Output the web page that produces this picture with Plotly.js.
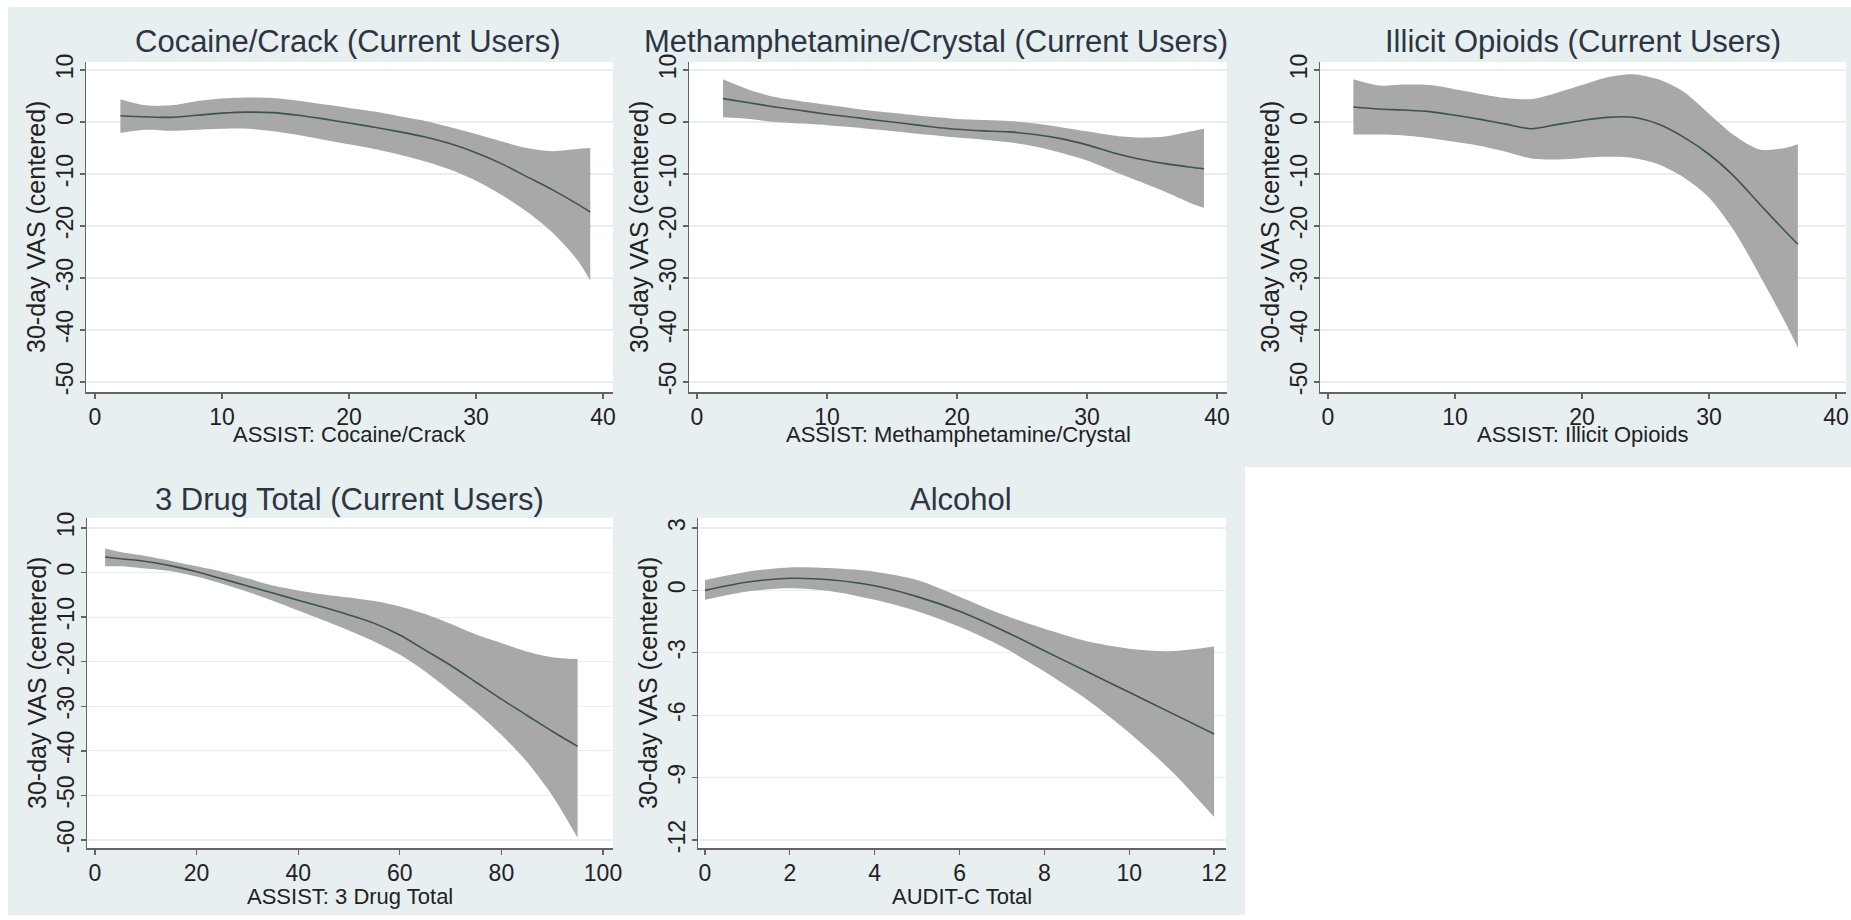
<!DOCTYPE html>
<html><head><meta charset="utf-8">
<script src="https://cdn.plot.ly/plotly-3.0.1.min.js"></script>
<style>html,body{margin:0;padding:0;background:#fff}#chart{width:1851px;height:920px}</style>
</head><body><div id="chart"></div>
<script>
// ---------------- DATA ----------------
const cocaineX   = [2,4,6,8,10,12,14,16,18,20,22,24,26,28,30,32,34,36,38,39];
const cocaineFit = [1.2,1.0,0.9,1.3,1.7,1.9,1.8,1.3,0.6,-0.2,-1.0,-1.9,-2.9,-4.2,-5.9,-8.0,-10.5,-13.0,-15.8,-17.3];
const cocaineHi  = [4.4,3.2,3.2,4.0,4.5,4.7,4.6,4.1,3.4,2.7,2.0,1.1,0.2,-1.0,-2.3,-3.7,-5.0,-5.6,-5.2,-5.0];
const cocaineLo  = [-2.1,-1.5,-1.7,-1.5,-1.3,-1.3,-1.8,-2.5,-3.4,-4.3,-5.2,-6.3,-7.6,-9.2,-11.3,-14.0,-17.2,-21.2,-26.6,-30.5];

const methX   = [2,4,6,8,10,12,14,16,18,20,22,24,26,28,30,32,34,36,38,39];
const methFit = [4.5,3.7,2.9,2.2,1.5,0.9,0.3,-0.3,-0.9,-1.4,-1.7,-1.9,-2.4,-3.2,-4.4,-5.9,-7.1,-8.0,-8.7,-9.0];
const methHi  = [8.2,6.2,4.8,4.0,3.3,2.6,2.0,1.5,1.0,0.6,0.4,0.2,-0.3,-1.0,-1.8,-2.6,-3.0,-2.8,-1.8,-1.3];
const methLo  = [0.9,0.6,0.0,-0.3,-0.6,-1.0,-1.5,-2.0,-2.5,-3.0,-3.4,-3.9,-4.7,-5.9,-7.4,-9.4,-11.4,-13.4,-15.6,-16.5];

const opioidX   = [2,4,6,8,10,12,14,16,18,20,22,24,26,28,30,32,34,36,37];
const opioidFit = [2.9,2.5,2.3,2.0,1.3,0.5,-0.4,-1.3,-0.5,0.3,0.9,0.9,-0.4,-2.9,-6.2,-10.5,-15.8,-21.0,-23.5];
const opioidHi  = [8.2,7.0,7.2,7.1,6.3,5.4,4.6,4.4,5.6,7.1,8.6,9.2,8.2,5.8,1.6,-2.6,-5.3,-5.0,-4.3];
const opioidLo  = [-2.4,-2.4,-2.6,-3.1,-3.8,-4.6,-5.7,-7.0,-7.2,-6.9,-6.7,-6.9,-8.1,-10.6,-14.5,-21.0,-29.5,-38.5,-43.4];

const drug3X   = [2,5,10,15,20,25,30,35,40,45,50,55,60,65,70,75,80,85,90,95];
const drug3Fit = [3.5,3.1,2.5,1.5,0.2,-1.4,-3.0,-4.6,-6.2,-7.8,-9.5,-11.4,-14.0,-17.4,-20.8,-24.6,-28.4,-32.0,-35.6,-39.0];
const drug3Hi  = [5.4,4.6,3.7,2.6,1.4,0.2,-1.3,-2.9,-4.0,-4.9,-5.6,-6.4,-7.6,-9.3,-11.5,-13.9,-15.8,-17.7,-19.0,-19.4];
const drug3Lo  = [1.4,1.4,0.9,0.3,-0.9,-2.5,-4.3,-6.3,-8.5,-10.7,-13.0,-15.5,-18.4,-22.2,-26.6,-31.2,-36.4,-42.4,-50.0,-59.5];

const alcX   = [0,1,2,3,4,5,6,7,8,9,10,11,12];
const alcFit = [0.0,0.4,0.58,0.5,0.22,-0.3,-1.0,-1.9,-2.9,-3.9,-4.9,-5.9,-6.9];
const alcHi  = [0.5,0.9,1.1,1.06,0.9,0.5,-0.3,-1.15,-1.85,-2.45,-2.8,-2.92,-2.7];
const alcLo  = [-0.45,-0.05,0.1,-0.05,-0.45,-1.0,-1.75,-2.7,-3.9,-5.25,-6.85,-8.7,-10.9];

const titles  = ['Cocaine/Crack (Current Users)','Methamphetamine/Crystal (Current Users)','Illicit Opioids (Current Users)','3 Drug Total (Current Users)','Alcohol'];
const xTitles = ['ASSIST: Cocaine/Crack','ASSIST: Methamphetamine/Crystal','ASSIST: Illicit Opioids','ASSIST: 3 Drug Total','AUDIT-C Total'];
const yTitle  = '30-day VAS (centered)';

const yTicksA = [10,0,-10,-20,-30,-40,-50];
const yTextA  = ['10','0','-10','-20','-30','-40','-50'];
const yTicksB = [10,0,-10,-20,-30,-40,-50,-60];
const yTextB  = ['10','0','-10','-20','-30','-40','-50','-60'];
const yTicksC = [3,0,-3,-6,-9,-12];
const yTextC  = ['3','0','-3','-6','-9','-12'];
const xTicksA = [0,10,20,30,40];
const xTicksB = [0,20,40,60,80,100];
const xTicksC = [0,2,4,6,8,10,12];

// ---------------- LAYOUT / STYLE ----------------
const W = 1851, H = 920;
const px = v => v / W, py = v => 1 - v / H;
const FONT = 'Liberation Sans, Arial, Helvetica, sans-serif';
const BG = 'rgb(231,239,240)';
const BAND = 'rgb(168,168,168)';
const LINE = 'rgb(58,84,84)';
const AX = 'rgb(100,100,100)';

const panels = [
  {x:cocaineX, f:cocaineFit, lo:cocaineLo, hi:cocaineHi, box:[86,62,613,392],  xr:[-0.709,40.79], yr:[-51.92,11.54], xt:xTicksA, yt:yTicksA, ytt:yTextA, tx:348, ty:42, xty:434},
  {x:methX,    f:methFit,    lo:methLo,    hi:methHi,    box:[689,62,1227,392], xr:[-0.615,40.77], yr:[-51.92,11.54], xt:xTicksA, yt:yTicksA, ytt:yTextA, tx:936, ty:42, xty:434},
  {x:opioidX,  f:opioidFit,  lo:opioidLo,  hi:opioidHi,  box:[1320,62,1846,392],xr:[-0.63,40.79],  yr:[-51.92,11.54], xt:xTicksA, yt:yTicksA, ytt:yTextA, tx:1583, ty:42, xty:434},
  {x:drug3X,   f:drug3Fit,   lo:drug3Lo,   hi:drug3Hi,   box:[87,518,613,848],  xr:[-1.57,101.97], yr:[-61.79,12.24], xt:xTicksB, yt:yTicksB, ytt:yTextB, tx:349, ty:499, xty:896},
  {x:alcX,     f:alcFit,     lo:alcLo,     hi:alcHi,     box:[698,518,1226,848],xr:[-0.165,12.28], yr:[-12.385,3.48], xt:xTicksC, yt:yTicksC, ytt:yTextC, tx:961, ty:499, xty:896}
];

const traces = [];
const layout = {
  width: W, height: H,
  margin: {l:0, r:0, t:0, b:0, pad:0},
  paper_bgcolor: BG,
  plot_bgcolor: '#ffffff',
  showlegend: false,
  font: {family: FONT, color: '#222'},
  annotations: [],
  shapes: [
    {type:'rect', xref:'paper', yref:'paper', x0:0, x1:1, y0:py(0), y1:py(7), fillcolor:'#fff', line:{width:0}, layer:'below'},
    {type:'rect', xref:'paper', yref:'paper', x0:0, x1:px(8), y0:0, y1:1, fillcolor:'#fff', line:{width:0}, layer:'below'},
    {type:'rect', xref:'paper', yref:'paper', x0:0, x1:1, y0:0, y1:py(915), fillcolor:'#fff', line:{width:0}, layer:'below'},
    {type:'rect', xref:'paper', yref:'paper', x0:px(1245), x1:1, y0:0, y1:py(467), fillcolor:'#fff', line:{width:0}, layer:'below'}
  ]
};

panels.forEach((p, i) => {
  const n = i + 1;
  const xa = 'x' + (n === 1 ? '' : n), ya = 'y' + (n === 1 ? '' : n);
  const [l, t, r, b] = p.box;
  // CI band
  traces.push({x:p.x, y:p.lo, xaxis:xa, yaxis:ya, type:'scatter', mode:'lines',
               line:{width:0, shape:'spline', smoothing:0.8}, hoverinfo:'skip'});
  traces.push({x:p.x, y:p.hi, xaxis:xa, yaxis:ya, type:'scatter', mode:'lines',
               line:{width:0, shape:'spline', smoothing:0.8}, fill:'tonexty', fillcolor:BAND, hoverinfo:'skip'});
  // fitted line
  traces.push({x:p.x, y:p.f, xaxis:xa, yaxis:ya, type:'scatter', mode:'lines',
               line:{width:1.6, color:LINE, shape:'spline', smoothing:0.8}});

  layout['xaxis' + (n === 1 ? '' : n)] = {
    domain:[px(l), px(r)], anchor:ya, range:p.xr, autorange:false,
    tickmode:'array', tickvals:p.xt, ticktext:p.xt.map(String),
    ticks:'outside', ticklen:5, tickwidth:1.3, tickcolor:AX,
    showline:true, linecolor:AX, linewidth:1.5, showgrid:false, zeroline:false,
    tickfont:{size:23, color:'#222', family:FONT}, ticklabelstandoff:-1, automargin:false
  };
  layout['yaxis' + (n === 1 ? '' : n)] = {
    domain:[py(b), py(t)], anchor:xa, range:p.yr, autorange:false,
    tickmode:'array', tickvals:p.yt, ticktext:p.ytt, tickangle:-90,
    ticks:'outside', ticklen:5, tickwidth:1.3, tickcolor:AX,
    showline:true, linecolor:AX, linewidth:1.5,
    showgrid:true, gridcolor:'rgb(232,238,241)', gridwidth:1.2, zeroline:false,
    tickfont:{size:23, color:'#222', family:FONT}, ticklabelstandoff:-3, automargin:false
  };

  layout.annotations.push({text:titles[i], xref:'paper', yref:'paper', x:px(p.tx), y:py(p.ty),
    xanchor:'center', yanchor:'middle', showarrow:false, font:{size:31, color:'#2d3542', family:FONT}});
  layout.annotations.push({text:xTitles[i], xref:'paper', yref:'paper', x:px((l + r) / 2), y:py(p.xty),
    xanchor:'center', yanchor:'middle', showarrow:false, font:{size:22, color:'#222', family:FONT}});
  layout.annotations.push({text:yTitle, xref:'paper', yref:'paper', x:px(l - 50), y:py((t + b) / 2),
    xanchor:'center', yanchor:'middle', textangle:-90, showarrow:false, font:{size:25, color:'#222', family:FONT}});
});

Plotly.newPlot('chart', traces, layout, {displayModeBar:false, staticPlot:true});
</script>
</body></html>
